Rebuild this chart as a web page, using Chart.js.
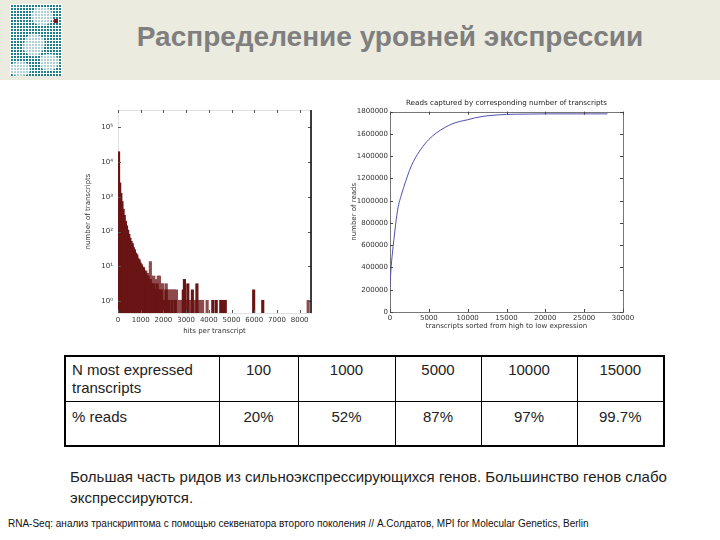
<!DOCTYPE html>
<html>
<head>
<meta charset="utf-8">
<script src="https://cdn.jsdelivr.net/npm/chart.js@4.4.0/dist/chart.umd.min.js"></script>
<style>
body { margin: 0; width: 720px; height: 540px; position: relative; overflow: hidden; background: #fff; font-family: "Liberation Sans", Arial, sans-serif; }
#band { position: absolute; left: 0; top: 0; width: 720px; height: 80px; background: #ebebdf; }
#logo { position: absolute; left: 10px; top: 4px; width: 52px; height: 72px; overflow: hidden; background-color: #1f7f88;
        background-image: linear-gradient(90deg, #fff 1px, transparent 1px), linear-gradient(#fff 1px, transparent 1px);
        background-size: 3px 3px; }
#logo b { position: absolute; background: rgba(255,255,255,0.65); border-radius: 40%; }
#logo i { position: absolute; left: 44px; top: 15px; width: 4px; height: 4px; background: #7a1a2a; }
h1 { position: absolute; left: 60px; top: 21px; width: 660px; margin: 0; text-align: center; font-size: 28px; font-weight: bold; color: #7f7f7f; }
#histWrap { position: absolute; left: 80px; top: 95px; }
#readsWrap { position: absolute; left: 340px; top: 95px; }
#tbl { position: absolute; left: 64px; top: 355px; border-collapse: collapse; table-layout: fixed; border: 2px solid #000; font-size: 15px; color: #222; }
#tbl td { border: 1px solid #000; vertical-align: top; text-align: center; padding: 4px 2px 0 2px; line-height: 18px; }
#tbl td.h { text-align: left; padding-left: 6px; }
#tbl tr.r1 td { height: 40px; }
#tbl tr.r2 td { height: 37px; padding-top: 6px; }
#note { position: absolute; left: 70px; top: 466px; width: 640px; font-size: 15px; line-height: 21px; color: #222; }
#foot { position: absolute; left: 8px; top: 518px; font-size: 10px; font-family: "Liberation Sans Narrow", "Liberation Sans", sans-serif; color: #111; white-space: nowrap; }
</style>
</head>
<body>
<div id="band"></div>
<div id="logo">
  <b style="left:22px;top:3px;width:20px;height:18px"></b>
  <b style="left:14px;top:30px;width:20px;height:22px;transform:rotate(25deg)"></b>
  <b style="left:30px;top:50px;width:18px;height:16px"></b>
  <b style="left:0px;top:58px;width:20px;height:14px"></b>
  <i></i>
</div>
<h1>Распределение уровней экспрессии</h1>
<div id="histWrap"><canvas id="hist" width="240" height="240"></canvas></div>
<div id="readsWrap"><canvas id="reads" width="300" height="235"></canvas></div>
<table id="tbl">
  <colgroup><col style="width:154px"><col style="width:79px"><col style="width:97px"><col style="width:86px"><col style="width:96px"><col style="width:87px"></colgroup>
  <tr class="r1" id="rowN"><td class="h">N most expressed<br>transcripts</td></tr>
  <tr class="r2" id="rowP"><td class="h">% reads</td></tr>
</table>
<div id="note">Большая часть ридов из сильноэкспрессирующихся генов. Большинство генов слабо экспрессируются.</div>
<div id="foot">RNA-Seq: анализ транскриптома с помощью секвенатора второго поколения // А.Солдатов, MPI for Molecular Genetics, Berlin</div>
<script>
// histogram: hits per transcript (bin start, bin = 50 hits)
const histDarkHits = [0, 50, 100, 150, 200, 250, 300, 350, 400, 450,
    500, 550, 600, 650, 700, 750, 800, 850, 900, 950,
    1000, 1050, 1100, 1150, 1200, 1250, 1300, 1350, 1400, 1450,
    1500, 1550, 1600, 1650, 1700, 1750, 1800, 1850, 1900, 1950,
    2000, 2100, 2200, 2350, 2500, 2850, 2900, 3050, 3250, 3450,
    4150, 4300, 4500, 4600, 4700, 5950, 6350];
const histDarkCount = [19000, 2400, 1200, 700, 420, 280, 190, 140, 105, 80,
    62, 50, 40, 33, 27, 23, 19, 16, 14, 12,
    10, 9, 8, 7, 6, 5, 5, 4, 4, 3,
    3, 3, 2, 2, 3, 2, 2, 1, 2, 1,
    1, 2, 1, 1, 1, 2, 4, 3, 2, 3,
    1, 1, 1, 1, 1, 2, 1];
const histLightHits = [600, 700, 800, 900, 1000, 1100, 1200, 1300, 1400,
    1450, 1550, 1650, 1750, 1800, 1900, 1950,
    2050, 2100, 2150, 2250, 2300, 2400, 2450, 2550, 2600,
    2650, 2700, 2750, 2800, 2850, 2900, 2950, 3000, 3050, 3100, 3150,
    3200, 3250, 3300, 3350, 3400, 3450, 3500, 3550, 3600, 3650, 3700,
    3900, 8350];
const histLightCount = [44, 29, 21, 15, 11, 9, 7, 6, 13,
    5, 5, 4, 5, 5, 3, 3,
    2, 3, 2, 2, 2, 2, 2, 2, 1,
    1, 1, 1, 1, 1, 1, 1, 1, 1, 1, 1,
    1, 1, 1, 1, 1, 1, 1, 1, 1, 1, 1,
    1, 1];
const histXTicks = [0, 1000, 2000, 3000, 4000, 5000, 6000, 7000, 8000];
const histYTicks = [1, 10, 100, 1000, 10000, 100000];
const histYTickLabels = ['10⁰', '10¹', '10²', '10³', '10⁴', '10⁵'];

// cumulative reads vs number of top transcripts
const readsTranscripts = [0, 50, 100, 200, 300, 500, 750, 1000, 1500, 2000,
    2500, 3000, 4000, 5000, 6000, 7000, 8000, 9000, 10000, 11000,
    12000, 13000, 15000, 17500, 20000, 24000, 28000];
const readsCaptured = [230000, 300000, 356000, 450000, 520000, 650000, 800000, 925000, 1060000, 1170000,
    1270000, 1350000, 1465000, 1550000, 1610000, 1655000, 1690000, 1712000, 1727000, 1745000,
    1758000, 1766000, 1775000, 1778000, 1780000, 1780000, 1780000];
const readsXTicks = [0, 5000, 10000, 15000, 20000, 25000, 30000];
const readsYTicks = [0, 200000, 400000, 600000, 800000, 1000000, 1200000, 1400000, 1600000, 1800000];

// table
const tableN = [100, 1000, 5000, 10000, 15000];
const tablePct = ['20%', '52%', '87%', '97%', '99.7%'];

tableN.forEach(v => { const td = document.createElement('td'); td.textContent = v; document.getElementById('rowN').appendChild(td); });
tablePct.forEach(v => { const td = document.createElement('td'); td.textContent = v; document.getElementById('rowP').appendChild(td); });

// matplotlib-like frame (behind the marks) with inward ticks (in front)
const frameTicks = {
    id: 'frameTicks',
    beforeDatasetsDraw(chart, args, opts) {
        const { ctx, chartArea: a } = chart;
        ctx.save();
        ctx.lineWidth = 1;
        ctx.strokeStyle = opts.frameColor;
        ctx.strokeRect(Math.round(a.left) + 0.5, Math.round(a.top) + 0.5, Math.round(a.width), Math.round(a.height));
        ctx.restore();
    },
    afterDatasetsDraw(chart, args, opts) {
        const { ctx, chartArea: a, scales: { x, y } } = chart;
        ctx.save();
        ctx.lineWidth = 1;
        ctx.strokeStyle = opts.tickColor;
        ctx.beginPath();
        x.ticks.forEach(t => {
            const px = Math.round(x.getPixelForValue(t.value)) + 0.5;
            ctx.moveTo(px, a.bottom); ctx.lineTo(px, a.bottom - 3);
            ctx.moveTo(px, a.top); ctx.lineTo(px, a.top + 3);
        });
        y.ticks.forEach(t => {
            const py = Math.round(y.getPixelForValue(t.value)) + 0.5;
            ctx.moveTo(a.left, py); ctx.lineTo(a.left + 3, py);
            ctx.moveTo(a.right, py); ctx.lineTo(a.right - 3, py);
        });
        ctx.stroke();
        if (opts.rightColor) {
            ctx.strokeStyle = opts.rightColor;
            ctx.lineWidth = 1.5;
            ctx.beginPath();
            ctx.moveTo(a.right, a.top); ctx.lineTo(a.right, a.bottom);
            ctx.stroke();
        }
        ctx.restore();
    }
};

const tickFont = { family: 'DejaVu Sans', size: 7 };
const noGrid = { display: false, drawTicks: false };

new Chart(document.getElementById('hist'), {
    type: 'bar',
    data: {
        datasets: [{
            data: histDarkHits.map((h, i) => ({ x: h + 25, y: histDarkCount[i] })),
            backgroundColor: '#6a1515',
            grouped: false,
            order: 1,
            barPercentage: 1,
            categoryPercentage: 1,
            inflateAmount: 1
        }, {
            data: histLightHits.map((h, i) => ({ x: h + 25, y: histLightCount[i] })),
            backgroundColor: '#8d4b4b',
            grouped: false,
            order: 2,
            barPercentage: 1,
            categoryPercentage: 1,
            inflateAmount: 1
        }]
    },
    options: {
        responsive: false,
        animation: false,
        layout: { padding: { top: 15, right: 9, left: 4 } },
        plugins: {
            legend: { display: false },
            tooltip: { enabled: false },
            frameTicks: { tickColor: '#555', frameColor: '#e2e2e2', rightColor: '#000' }
        },
        scales: {
            x: {
                type: 'linear', min: 0, max: 8500, offset: false,
                grid: noGrid, border: { display: false },
                afterBuildTicks: s => { s.ticks = histXTicks.map(v => ({ value: v })); },
                afterFit: s => { s.height = 22; },
                ticks: { font: tickFont, color: '#333', padding: 3, maxRotation: 0, autoSkip: false, callback: v => String(v) },
                title: { display: true, text: 'hits per transcript', font: tickFont, color: '#333', padding: 0 }
            },
            y: {
                type: 'logarithmic', min: 0.45, max: 316000,
                grid: noGrid, border: { display: false },
                afterBuildTicks: s => { s.ticks = histYTicks.map(v => ({ value: v })); },
                afterFit: s => { s.width = 34; },
                ticks: { font: tickFont, color: '#333', padding: 5, callback: v => histYTickLabels[histYTicks.indexOf(v)] },
                title: { display: true, text: 'number of transcripts', font: tickFont, color: '#333', padding: 0 }
            }
        }
    },
    plugins: [frameTicks]
});

new Chart(document.getElementById('reads'), {
    type: 'line',
    data: {
        datasets: [{
            data: readsTranscripts.map((t, i) => ({ x: t, y: readsCaptured[i] })),
            borderColor: '#5050b0',
            borderWidth: 1,
            pointRadius: 0,
            cubicInterpolationMode: 'monotone',
            fill: false
        }]
    },
    options: {
        responsive: false,
        animation: false,
        layout: { padding: { right: 17, left: 10 } },
        plugins: {
            legend: { display: false },
            tooltip: { enabled: false },
            title: { display: true, fullSize: false, text: 'Reads captured by corresponding number of transcripts', font: { family: 'DejaVu Sans', size: 7.2, weight: 'normal' }, color: '#222', padding: { top: 4, bottom: 4 } },
            frameTicks: { tickColor: '#444', frameColor: '#777' }
        },
        scales: {
            x: {
                type: 'linear', min: 0, max: 30000,
                grid: noGrid, border: { display: false },
                afterBuildTicks: s => { s.ticks = readsXTicks.map(v => ({ value: v })); },
                afterFit: s => { s.height = 18; },
                ticks: { font: tickFont, color: '#333', padding: 2, maxRotation: 0, autoSkip: false, callback: v => String(v) },
                title: { display: true, text: 'transcripts sorted from high to low expression', font: tickFont, color: '#333', padding: 0 }
            },
            y: {
                type: 'linear', min: 0, max: 1800000,
                grid: noGrid, border: { display: false },
                afterBuildTicks: s => { s.ticks = readsYTicks.map(v => ({ value: v })); },
                afterFit: s => { s.width = 40; },
                ticks: { font: tickFont, color: '#333', padding: 2, autoSkip: false, callback: v => String(v) },
                title: { display: true, text: 'number of reads', font: tickFont, color: '#333', padding: 0 }
            }
        }
    },
    plugins: [frameTicks]
});
</script>
</body>
</html>
